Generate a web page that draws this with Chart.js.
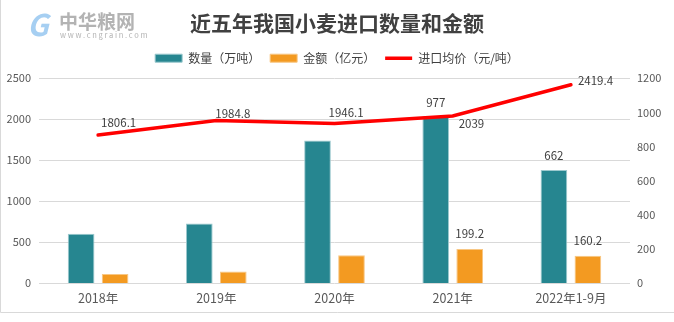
<!DOCTYPE html>
<html>
<head>
<meta charset="utf-8">
<script src="https://cdn.jsdelivr.net/npm/chart.js@4/dist/chart.umd.min.js"></script>
<style>
  html, body { margin: 0; padding: 0; background: #fff; }
  #wrap { width: 674px; height: 322px; position: relative; }
</style>
</head>
<body>
<div id="wrap"><canvas id="chart"></canvas></div>
<script>
// 近五年我国小麦进口数量和金额
const categories = ["2018年", "2019年", "2020年", "2021年", "2022年1-9月"]
const quantity = [288, 348, 835, 977, 662]          // 万吨 (right axis)
const amount = [53, 68, 162, 199.2, 160.2]          // 亿元 (right axis)
const avgPrice = [1806.1, 1984.8, 1946.1, 2039, 2419.4] // 元/吨 (left axis)
const quantityShown = [false, false, false, true, true]
const amountShown = [false, false, false, true, true]
const priceShown = [true, true, true, true, true]
const leftTicks = [0, 500, 1000, 1500, 2000, 2500]
const rightTicks = [0, 200, 400, 600, 800, 1000, 1200]

const FONT = '"Noto Sans CJK SC", "Noto Sans", sans-serif'

// draws the few value labels the original shows, next to their marks
const valueLabels = {
  id: "valueLabels",
  afterDatasetsDraw(chart, args, opts) {
    const ctx = chart.ctx
    ctx.save()
    ctx.font = `${opts.size}px ${FONT}`
    ctx.fillStyle = opts.color
    ctx.textBaseline = "middle"
    opts.sets.forEach(set => {
      const meta = chart.getDatasetMeta(set.dataset)
      const values = chart.data.datasets[set.dataset].data
      meta.data.forEach((el, i) => {
        if (!set.shown[i]) return
        const [dx, dy, align] = set.place[i]
        ctx.textAlign = align
        ctx.fillText(String(values[i]), el.x + dx, el.y + dy)
      })
    })
    ctx.restore()
  }
}

// a little more room under the legend than chart.js gives
const legendGap = {
  id: "legendGap",
  beforeLayout(chart, args, opts) {
    const legend = chart.legend
    if (!legend || legend._gapPatched) return
    const fit = legend.fit
    legend.fit = function () {
      fit.call(this)
      this.height += opts.extra
    }
    legend._gapPatched = true
  }
}

// watermark logo and picture frame
const frame = {
  id: "frame",
  beforeDraw(chart) {
    const ctx = chart.ctx
    ctx.save()
    ctx.strokeStyle = "#d9d9d9"
    ctx.lineWidth = 1
    ctx.beginPath()
    ctx.moveTo(0.5, 0)
    ctx.lineTo(0.5, 312.5)
    ctx.lineTo(674, 312.5)
    ctx.stroke()

    ctx.fillStyle = "#a6cff2"
    ctx.font = `italic bold 30px ${FONT}`
    ctx.textBaseline = "alphabetic"
    ctx.fillText("G", 27, 36)
    ctx.fillStyle = "#b3b3b3"
    ctx.font = `bold 19px ${FONT}`
    ctx.fillText("中华粮网", 59, 29)
    ctx.font = `7.5px ${FONT}`
    ctx.fillText("w w w . c n g r a i n . c o m", 60, 38)
    ctx.restore()
  }
}

new Chart(document.getElementById("chart"), {
  type: "bar",
  data: {
    labels: categories,
    datasets: [
      {
        label: "数量（万吨）", data: quantity, yAxisID: "y1", order: 1,
        backgroundColor: "#268690", borderColor: "#9cc9ce", borderWidth: 1,
        pointStyle: "rect"
      },
      {
        label: "金额（亿元）", data: amount, yAxisID: "y1", order: 1,
        backgroundColor: "#f39a21", borderColor: "#f8c784", borderWidth: 1,
        pointStyle: "rect"
      },
      {
        type: "line", label: "进口均价（元/吨）", data: avgPrice, yAxisID: "y", order: 0,
        borderColor: "#ff0000", backgroundColor: "#ff0000", borderWidth: 3.5,
        pointRadius: 0, tension: 0, borderCapStyle: "round", pointStyle: "line"
      }
    ]
  },
  options: {
    responsive: true,
    maintainAspectRatio: false,
    animation: false,
    categoryPercentage: 0.575,
    barPercentage: 0.785,
    layout: { padding: { left: 0, right: 0, top: 0, bottom: 8 } },
    plugins: {
      title: {
        display: true,
        text: "近五年我国小麦进口数量和金额",
        color: "#404040",
        font: { family: FONT, size: 21, weight: "bold" },
        padding: { top: 10, bottom: 7 }
      },
      legend: {
        labels: {
          usePointStyle: true,
          pointStyleWidth: 27,
          boxHeight: 8,
          padding: 10,
          color: "#404040",
          font: { family: FONT, size: 12 },
          sort: (a, b) => a.datasetIndex - b.datasetIndex
        }
      },
      legendGap: { extra: 4 },
      tooltip: { enabled: false },
      valueLabels: {
        size: 11.5,
        color: "#404040",
        sets: [
          { dataset: 2, shown: priceShown,
            place: [[3, -12, "left"], [-1, -7, "left"], [-6, -11, "left"], [6, 8, "left"], [7, -4, "left"]] },
          { dataset: 0, shown: quantityShown,
            place: quantity.map(() => [0, -14, "center"]) },
          { dataset: 1, shown: amountShown,
            place: amount.map(() => [0, -15, "center"]) }
        ]
      }
    },
    scales: {
      x: {
        grid: { display: false, drawTicks: false },
        border: { display: false },
        ticks: { color: "#595959", padding: 8, font: { family: FONT, size: 12.5 } }
      },
      y: {
        position: "left",
        min: 0, max: 2500,
        afterBuildTicks: s => { s.ticks = leftTicks.map(v => ({ value: v })) },
        afterFit: s => { s.width = 39 },
        grid: { color: "#d9d9d9", drawTicks: false },
        border: { display: false },
        ticks: { color: "#595959", padding: 8, font: { family: FONT, size: 11 }, callback: v => String(v) }
      },
      y1: {
        position: "right",
        min: 0, max: 1200,
        afterBuildTicks: s => { s.ticks = rightTicks.map(v => ({ value: v })) },
        afterFit: s => { s.width = 44 },
        grid: { display: false, drawTicks: false },
        border: { display: false },
        ticks: { color: "#595959", padding: 7, font: { family: FONT, size: 11 }, callback: v => String(v) }
      }
    }
  },
  plugins: [frame, legendGap, valueLabels]
})
</script>
</body>
</html>
